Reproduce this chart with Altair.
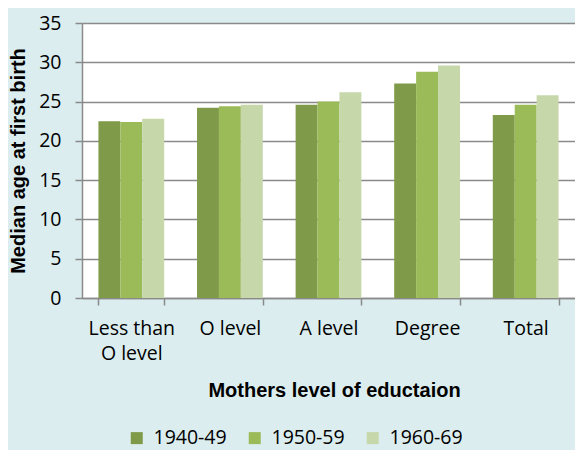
import altair as alt
import pandas as pd

categories = ["Less than O level", "O level", "A level", "Degree", "Total"]
series = ["1940-49", "1950-59", "1960-69"]
v_1940 = [22.5, 24.2, 24.6, 27.3, 23.3]
v_1950 = [22.4, 24.4, 25.0, 28.8, 24.6]
v_1960 = [22.8, 24.6, 26.2, 29.6, 25.8]
colors = ["#7F9A48", "#9BBB59", "#C6D7AA"]
y_ticks = [0, 5, 10, 15, 20, 25, 30, 35]

rows = []
for s, vals in zip(series, [v_1940, v_1950, v_1960]):
    for c, v in zip(categories, vals):
        rows.append({"cat": c, "series": s, "value": v})
df = pd.DataFrame(rows)

label_font = "Open Sans"
title_font = "Liberation Sans"

chart = alt.Chart(df).mark_bar().encode(
    x=alt.X(
        "cat:N",
        sort=categories,
        scale=alt.Scale(paddingInner=0.333, paddingOuter=0.1667),
        axis=alt.Axis(
            title="Mothers level of eductaion",
            titleFont=title_font,
            titleFontSize=20,
            titleFontWeight="bold",
            titleColor="#000000",
            titleX=252,
            titleY=98,
            titleAlign="center",
            titleBaseline="alphabetic",
            labelFont=label_font,
            labelFontSize=19.5,
            labelColor="#000000",
            labelAngle=0,
            labelPadding=14,
            labelLineHeight=25,
            labelBaseline="top",
            labelExpr="datum.value == 'Less than O level' ? ['Less than', 'O level'] : datum.value",
            domainColor="#8A8A8A",
            domainWidth=1.5,
            tickColor="#8A8A8A",
            tickWidth=1.5,
            tickSize=7,
            tickBand="extent",
            grid=False,
        ),
    ),
    xOffset=alt.XOffset("series:N", sort=series, scale=alt.Scale(paddingInner=0, paddingOuter=0)),
    y=alt.Y(
        "value:Q",
        scale=alt.Scale(domain=[0, 35], nice=False),
        axis=alt.Axis(
            title="Median age at first birth",
            titleFont=title_font,
            titleFontSize=20,
            titleFontWeight="bold",
            titleColor="#000000",
            titleAngle=270,
            titleX=-64,
            titleY=137.5,
            titleAlign="center",
            titleBaseline="middle",
            values=y_ticks,
            labelFont=label_font,
            labelFontSize=19.5,
            labelColor="#000000",
            labelPadding=14,
            domainColor="#8A8A8A",
            domainWidth=1.5,
            tickColor="#8A8A8A",
            tickWidth=1.5,
            tickSize=7,
            grid=True,
            gridColor="#8A8A8A",
            gridWidth=1.5,
        ),
    ),
    color=alt.Color(
        "series:N",
        sort=series,
        scale=alt.Scale(domain=series, range=colors),
        legend=alt.Legend(
            title=None,
            orient="none",
            direction="horizontal",
            legendX=45,
            legendY=405,
            symbolType="square",
            symbolSize=144,
            symbolStrokeWidth=0,
            labelFont=label_font,
            labelFontSize=19.5,
            labelColor="#000000",
            labelOffset=7,
            columnPadding=18,
        ),
    ),
).properties(
    width=493,
    height=275,
    background="#DBEDEE",
    padding={"left": 74, "top": 15, "right": 0, "bottom": 152},
    autosize=alt.AutoSizeParams(type="none"),
).configure_view(
    fill="#FFFFFF",
    stroke=None,
)

chart.save("out.html", embed_options={"renderer": "svg", "actions": False})
